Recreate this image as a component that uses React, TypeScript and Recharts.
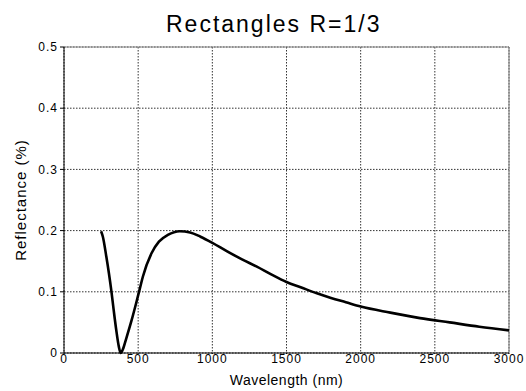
import React from 'react';
import {
  LineChart,
  Line,
  XAxis,
  YAxis,
  CartesianGrid,
  ReferenceLine,
} from 'recharts';

// Wavelength (nm) and reflectance
const wavelengths = [
  250, 262, 285, 303, 319, 334, 352, 370, 382, 397, 420, 454, 488, 510, 532, 590, 640,
  700, 780, 850, 920, 1000, 1100, 1200, 1300, 1400, 1500, 1600, 1700, 1800, 1900,
  2000, 2200, 2400, 2600, 2800, 3000,
];
const reflectance = [
  0.199, 0.19, 0.158, 0.13, 0.102, 0.072, 0.038, 0.01, 0.0, 0.006, 0.024, 0.052,
  0.083, 0.104, 0.125, 0.163, 0.182, 0.193, 0.199, 0.197, 0.19, 0.18, 0.166, 0.153,
  0.141, 0.128, 0.116, 0.107, 0.098, 0.09, 0.083, 0.076, 0.066, 0.057, 0.05, 0.043,
  0.037,
];

const xTicks = [0, 500, 1000, 1500, 2000, 2500, 3000];
const yTicks = [0, 0.1, 0.2, 0.3, 0.4, 0.5];

const data = wavelengths.map((w, i) => ({ wavelength: w, r: reflectance[i] }));

const FONT = '"Liberation Sans", Arial, sans-serif';
const tickStyle = { fill: '#000', fontSize: 12, fontFamily: FONT, style: { letterSpacing: 1 } };

export default function App() {
  return (
    <div style={{ position: 'absolute', left: 0, top: 0, width: 526, height: 391, background: '#fff', fontFamily: FONT }}>
      <div
        style={{
          position: 'absolute',
          left: 166,
          top: 11,
          whiteSpace: 'nowrap',
          fontSize: 23,
          letterSpacing: 2,
          lineHeight: 'normal',
          color: '#000',
        }}
      >
        Rectangles R=1/3
      </div>
      <LineChart
        width={526}
        height={391}
        data={data}
        margin={{ top: 47, right: 17, bottom: 0, left: 0 }}
      >
        <CartesianGrid stroke="#333" strokeDasharray="1.5 1.5" strokeWidth={1} />
        <XAxis
          dataKey="wavelength"
          type="number"
          domain={[0, 3000]}
          ticks={xTicks}
          interval={0}
          height={38}
          stroke="#000"
          tickSize={1}
          tickMargin={0}
          tick={tickStyle}
          label={{ value: 'Wavelength (nm)', position: 'insideBottom', offset: 6, fill: '#000', fontSize: 14, fontFamily: FONT, style: { letterSpacing: 0.5 } }}
        />
        <YAxis
          type="number"
          domain={[0, 0.5]}
          ticks={yTicks}
          interval={0}
          width={64}
          stroke="#000"
          tickSize={4}
          tickMargin={2}
          tickFormatter={(v: number) => (v === 0 ? '0' : String(v))}
          tick={tickStyle}
          label={{ value: 'Reflectance (%)', angle: -90, position: 'insideLeft', offset: 21, fill: '#000', fontSize: 15, fontFamily: FONT, style: { textAnchor: 'middle', letterSpacing: 1 } }}
        />
        <ReferenceLine y={0.5} stroke="#888" strokeWidth={1.2} />
        <ReferenceLine x={3000} stroke="#888" strokeWidth={1.2} />
        <Line
          type="monotone"
          dataKey="r"
          stroke="#000"
          strokeWidth={2.6}
          dot={false}
          isAnimationActive={false}
        />
      </LineChart>
    </div>
  );
}
